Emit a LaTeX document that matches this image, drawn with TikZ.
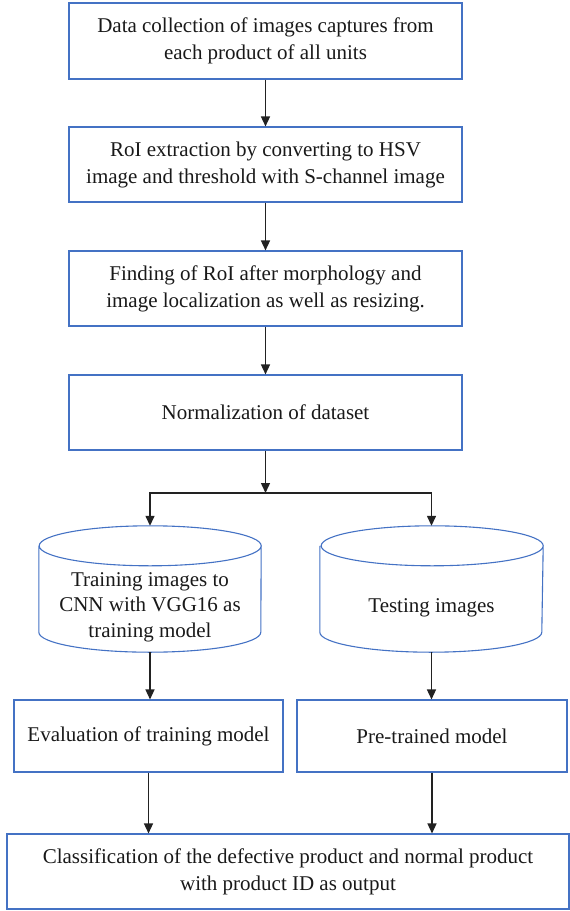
\documentclass[tikz,border=0pt]{standalone}
\usepackage{fontspec}
\setmainfont{Liberation Serif}
\usetikzlibrary{arrows.meta}
\definecolor{boxblue}{HTML}{4472C4}
\definecolor{arrowcol}{HTML}{222222}
\tikzset{
  flowbox/.style={draw=boxblue, line width=1.1pt, inner sep=0pt, align=center,
    font=\fontsize{21}{27}\selectfont, text=black!90},
  cyltext/.style={inner sep=0pt, align=center,
    font=\fontsize{21}{25.5}\selectfont, text=black!90},
  cylline/.style={draw=boxblue, line width=1.1pt},
  arr/.style={draw=arrowcol, line width=1.4pt, -{Triangle[length=10pt,width=9pt]}},
  plain/.style={draw=arrowcol, line width=1.4pt}
}
\begin{document}
\begin{tikzpicture}[x=1pt,y=-1pt]
\useasboundingbox (0,0) rectangle (570,911);

\node[flowbox, minimum width=393pt, minimum height=76pt] (b1) at (265.5,41)
  {Data collection of images captures from\\each product of all units};
\node[flowbox, minimum width=393pt, minimum height=75pt] (b2) at (265.5,164.5)
  {RoI extraction by converting to HSV\\image and threshold with S-channel image};
\node[flowbox, minimum width=393pt, minimum height=75pt] (b3) at (265.5,288.5)
  {Finding of RoI after morphology and\\image localization as well as resizing.};
\node[flowbox, minimum width=393pt, minimum height=75pt] (b4) at (265.5,412.5)
  {Normalization of dataset};

\coordinate (j) at (265.5,493);

% cylinders: invisible frames from top of ellipse to bottom of arc
\node[minimum width=222pt, minimum height=126pt, inner sep=0pt] (c1) at (150,589) {};
\node[minimum width=223pt, minimum height=126pt, inner sep=0pt] (c2) at (431.5,589) {};
\foreach \c in {c1,c2}{
  \draw[cylline] ([yshift=-20pt]\c.north west) -- ([yshift=20pt]\c.south west)
    arc[start angle=180, end angle=360, x radius=111pt, y radius=20pt]
    -- ([yshift=-20pt]\c.north east)
    arc[start angle=0, end angle=360, x radius=111pt, y radius=20pt];
}
\node[cyltext] (t1) at (150,607) {Training images to\\CNN with VGG16 as\\training model};
\node[cyltext] (t2) at (431.5,608) {Testing images};

\node[flowbox, minimum width=269pt, minimum height=72pt] (e1) at (148.5,736)
  {Evaluation of training model};
\node[flowbox, minimum width=270pt, minimum height=72pt] (e2) at (432,736)
  {Pre-trained model};
\node[flowbox, minimum width=562pt, minimum height=75pt] (f) at (288,871.5)
  {Classification of the defective product and normal product\\with product ID as output};

\draw[arr] (b1) -- (b2);
\draw[arr] (b2) -- (b3);
\draw[arr] (b3) -- (b4);
\draw[arr] (b4) -- (j);
\draw[arr] (j) -| (c1.north);
\draw[arr] (j) -| (c2.north);
\draw[arr] (c1.south) -- (c1.south |- e1.north);
\draw[arr] (c2.south) -- (c2.south |- e2.north);
\draw[arr] (e1.south) -- (e1.south |- f.north);
\draw[arr] (e2.south) -- (e2.south |- f.north);
\end{tikzpicture}
\end{document}
